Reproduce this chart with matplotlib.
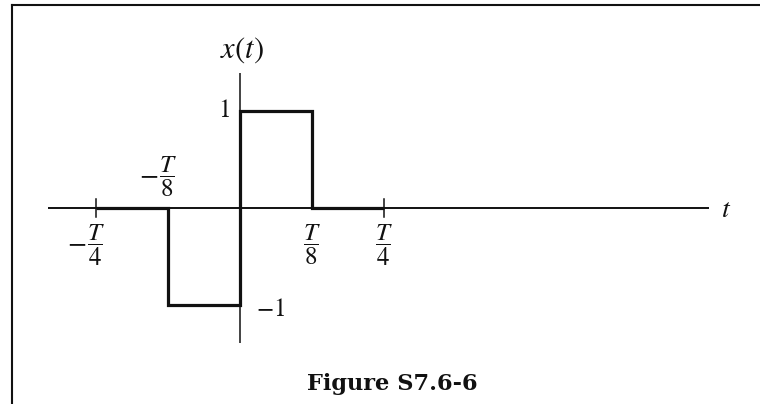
import matplotlib
matplotlib.use("Agg")
import matplotlib.pyplot as plt
from matplotlib.lines import Line2D

plt.rcParams["mathtext.fontset"] = "stix"
plt.rcParams["font.family"] = "STIXGeneral"

# signal x(t): piecewise constant, t in units of the period T
t_edges = [-0.25, -0.125, 0.0, 0.125, 0.25]
levels = [0, -1, 1, 0]

# labelled instants along the t axis
tick_t = [-0.25, -0.125, 0.125, 0.25]
tick_den = ["4", "8", "8", "4"]
tick_neg = [True, True, False, False]
tick_above = [False, True, False, False]
marked_t = [-0.25, 0.25]

INK = "#111111"

fig = plt.figure(figsize=(7.6, 4.04), dpi=100, facecolor="white")
ax = fig.add_axes([0, 0, 1, 1])
ax.set_xlim(-240 / 576, 520 / 576)
ax.set_ylim(-196 / 97, 208 / 97)
ax.axis("off")

# frame lines (top and left only)
fig.add_artist(Line2D([12 / 760, 12 / 760], [0, 1 - 5 / 404],
                      color=INK, lw=1.5, transform=fig.transFigure))
fig.add_artist(Line2D([12 / 760, 1], [1 - 5 / 404, 1 - 5 / 404],
                      color=INK, lw=1.5, transform=fig.transFigure))

# axes
ax.plot([-0.333, 0.814], [0, 0], color=INK, lw=1.4, solid_capstyle="butt")
ax.plot([0, 0], [-1.39, 1.39], color=INK, lw=1.1, solid_capstyle="butt")
for tm in marked_t:
    ax.plot([tm, tm], [-0.095, 0.095], color=INK, lw=1.1)

# the signal
ax.stairs(levels, t_edges, baseline=None, color=INK, lw=2.3)

# tick labels as stacked fractions
for tv, den, neg, above in zip(tick_t, tick_den, tick_neg, tick_above):
    yl = 0.32 if above else -0.38
    ax.text(tv, yl, r"$\dfrac{T}{%s}$" % den, ha="center", va="center",
            fontsize=18, color=INK)
    if neg:
        ax.text(tv - 0.034, yl + 0.01, r"$-$", ha="center", va="center",
                fontsize=20, color=INK)

ax.text(0.003, 1.63, r"$x(t)$", ha="center", va="center", fontsize=22, color=INK)
ax.text(-0.016, 1.0, "1", ha="right", va="center", fontsize=18, color=INK)
ax.text(0.028, -1.05, r"$-1$", ha="left", va="center", fontsize=18, color=INK)
ax.text(0.844, -0.02, r"$t$", ha="center", va="center", fontsize=20, color=INK)

fig.text(392 / 760, 1 - 384 / 404, "Figure S7.6-6", ha="center", va="center",
         fontsize=16.2, fontweight="bold", family="DejaVu Serif", color=INK)

fig.savefig("out.png", dpi=100, facecolor="white")
